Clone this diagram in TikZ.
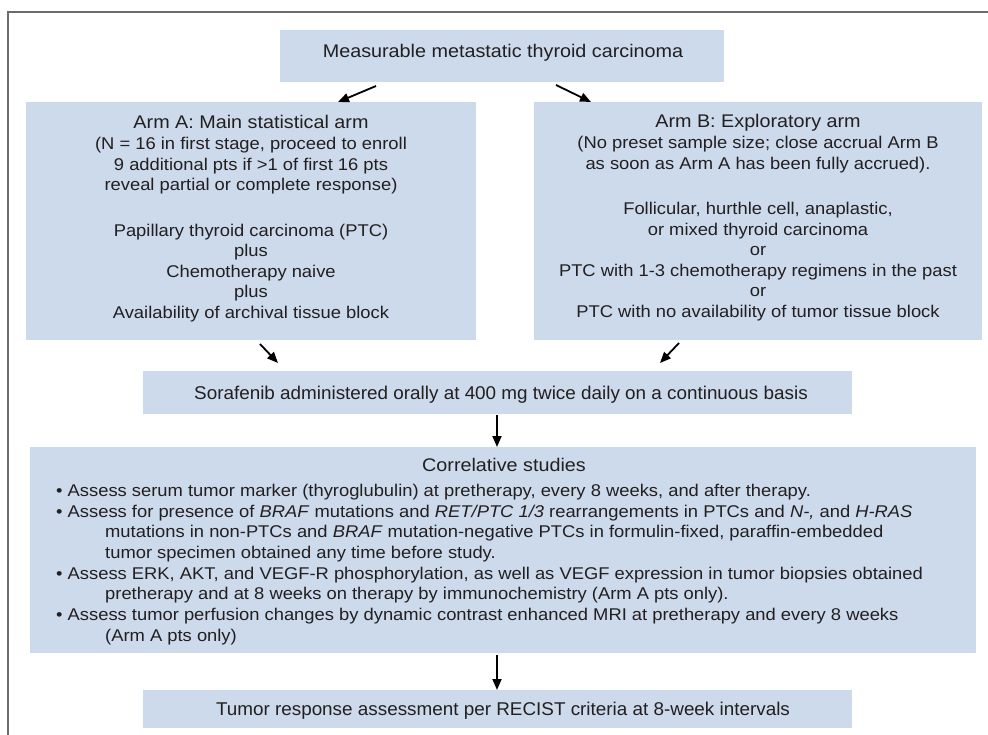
\documentclass[tikz,border=0pt]{standalone}
\usepackage{fontspec}
\setmainfont{Liberation Sans}[FakeStretch=1.08]
\newfontfamily\condf{Liberation Sans}[FakeStretch=1.02]
\usetikzlibrary{arrows.meta}
\definecolor{boxfill}{HTML}{CCDAEB}
\definecolor{txt}{HTML}{231F20}
\definecolor{framec}{HTML}{6B6B6B}
\tikzset{
  box/.style={fill=boxfill, draw=none, inner sep=0pt, anchor=north west},
  ln/.style={anchor=base, inner sep=0pt, text=txt, font=\fontsize{17}{20}\selectfont},
  lnl/.style={anchor=base west, inner sep=0pt, text=txt, font=\fontsize{17}{20}\selectfont},
  ttl/.style={anchor=base, inner sep=0pt, text=txt, font=\fontsize{18.3}{22}\selectfont},
  cnd/.style={anchor=base, inner sep=0pt, text=txt, font=\condf\fontsize{18.5}{22}\selectfont},
  arr/.style={line width=1.8pt, draw=black, -{Triangle[length=11pt,width=9pt]}},
  framel/.style={line width=2pt, draw=framec}
}
\begin{document}
\begin{tikzpicture}[x=1pt,y=-1pt]
\useasboundingbox (0,0) rectangle (988,735);
\draw[framel] (8,735) -- (8,12) -- (988,12);

% boxes
\node[box, minimum width=444pt, minimum height=52pt] (top) at (280,30) {};
\node[box, minimum width=450pt, minimum height=238pt] (armA) at (26,102) {};
\node[box, minimum width=448pt, minimum height=238pt] (armB) at (534,102) {};
\node[box, minimum width=709pt, minimum height=43pt] (sora) at (143,371) {};
\node[box, minimum width=946pt, minimum height=206pt] (corr) at (30,447) {};
\node[box, minimum width=709pt, minimum height=38pt] (resp) at (143,690) {};

% top text
\node[ttl] (toptxt) at (503,58) {Measurable metastatic thyroid carcinoma};

% Arm A
\node[ttl] (a1) at (251,129) {Arm A: Main statistical arm};
\node[ln] (a2) at (251,150) {(N = 16 in first stage, proceed to enroll};
\node[ln] (a3) at (251,171) {9 additional pts if >1 of first 16 pts};
\node[ln] (a4) at (251,191) {reveal partial or complete response)};
\node[ln] (a5) at (251,237) {Papillary thyroid carcinoma (PTC)};
\node[ln] (a6) at (251,257) {plus};
\node[ln] (a7) at (251,278) {Chemotherapy naive};
\node[ln] (a8) at (251,298) {plus};
\node[ln] (a9) at (251,319) {Availability of archival tissue block};

% Arm B
\node[ttl] (b1) at (758,128) {Arm B: Exploratory arm};
\node[ln] (b2) at (758,149) {(No preset sample size; close accrual Arm B};
\node[ln] (b3) at (758,170) {as soon as Arm A has been fully accrued).};
\node[ln] (b4) at (758,215) {Follicular, hurthle cell, anaplastic,};
\node[ln] (b5) at (758,236) {or mixed thyroid carcinoma};
\node[ln] (b6) at (758,256) {or};
\node[ln] (b7) at (758,277) {PTC with 1-3 chemotherapy regimens in the past};
\node[ln] (b8) at (758,297) {or};
\node[ln] (b9) at (758,318) {PTC with no availability of tumor tissue block};

% Sorafenib
\node[cnd] (soratxt) at (501,399) {Sorafenib administered orally at 400 mg twice daily on a continuous basis};

% Correlative
\node[ttl] (c0) at (504,471) {Correlative studies};
\node[lnl] (c1) at (56,496) {\textbullet\ Assess serum tumor marker (thyroglubulin) at pretherapy, every 8 weeks, and after therapy.};
\node[lnl] (c2) at (56,517) {\textbullet\ Assess for presence of \textit{BRAF} mutations and \textit{RET/PTC 1/3} rearrangements in PTCs and \textit{N-,} and \textit{H-RAS}};
\node[lnl] (c3) at (105,537) {mutations in non-PTCs and \textit{BRAF} mutation-negative PTCs in formulin-fixed, paraffin-embedded};
\node[lnl] (c4) at (105,558) {tumor specimen obtained any time before study.};
\node[lnl] (c5) at (56,579) {\textbullet\ Assess ERK, AKT, and VEGF-R phosphorylation, as well as VEGF expression in tumor biopsies obtained};
\node[lnl] (c6) at (105,599) {pretherapy and at 8 weeks on therapy by immunochemistry (Arm A pts only).};
\node[lnl] (c7) at (56,620) {\textbullet\ Assess tumor perfusion changes by dynamic contrast enhanced MRI at pretherapy and every 8 weeks};
\node[lnl] (c8) at (105,641) {(Arm A pts only)};

% Response
\node[cnd] (resptxt) at (503,715) {Tumor response assessment per RECIST criteria at 8-week intervals};

% arrows
\coordinate (t1) at (376,86);  \coordinate (t1e) at (338,102);
\coordinate (t2) at (556,85);  \coordinate (t2e) at (591,102);
\coordinate (m1) at (260,344); \coordinate (m1e) at (278,363);
\coordinate (m2) at (679,343); \coordinate (m2e) at (660,363);
\coordinate (v1) at (497,415); \coordinate (v1e) at (497,447);
\coordinate (v2) at (497,655); \coordinate (v2e) at (497,690);
\draw[arr] (t1) -- (t1e);
\draw[arr] (t2) -- (t2e);
\draw[arr] (m1) -- (m1e);
\draw[arr] (m2) -- (m2e);
\draw[arr] (v1) -- (v1e);
\draw[arr] (v2) -- (v2e);
\end{tikzpicture}
\end{document}
